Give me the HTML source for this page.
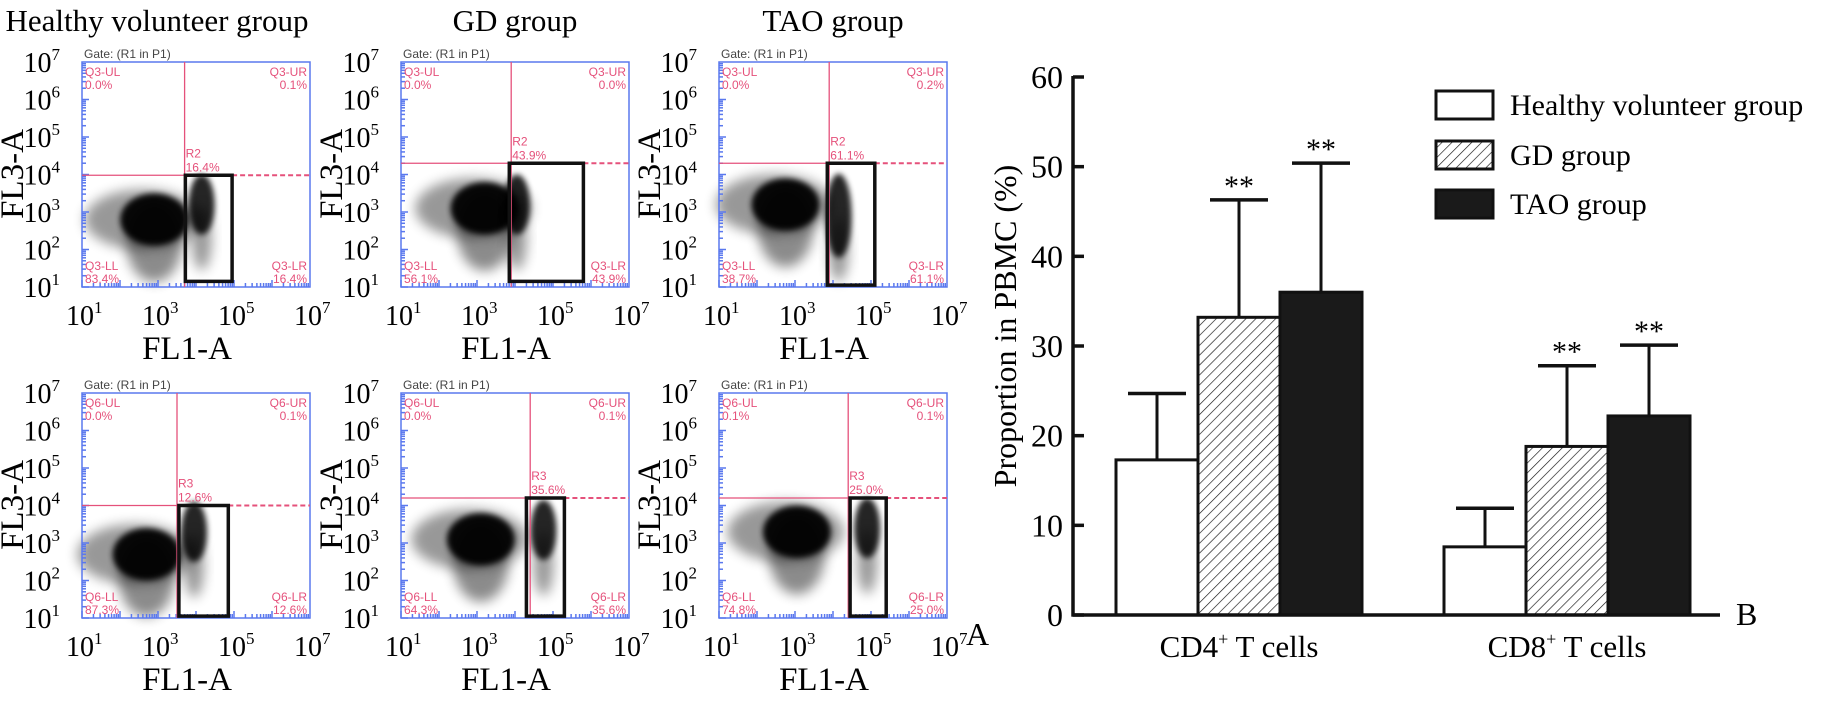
<!DOCTYPE html>
<html><head><meta charset="utf-8">
<style>
html,body{margin:0;padding:0;background:#fff;}
svg{display:block;}
.serif{font-family:"Liberation Serif","Times New Roman",serif;fill:#000;}
.sans{font-family:"Liberation Sans",Arial,sans-serif;}
</style></head>
<body>
<svg id="fig" width="1833" height="724" viewBox="0 0 1833 724" xmlns="http://www.w3.org/2000/svg">
<defs>
  <pattern id="hatch" patternUnits="userSpaceOnUse" width="7" height="7" patternTransform="rotate(45)">
    <rect width="7" height="7" fill="#fff"/>
    <line x1="0" y1="0" x2="0" y2="7" stroke="#111" stroke-width="1.3"/>
  </pattern>
  <filter id="blur6" x="-50%" y="-50%" width="200%" height="200%"><feGaussianBlur stdDeviation="6"/></filter>
  <filter id="blur3" x="-50%" y="-50%" width="200%" height="200%"><feGaussianBlur stdDeviation="3"/></filter>
</defs>
<g id="flow"></g>
<g id="bars"></g>
</svg>
<script>
// ===== Bar chart data =====
const categories = ["CD4", "CD8"];
const groups = ["Healthy volunteer group", "GD group", "TAO group"];
const healthyMeans = [17.3, 7.6];
const healthyErr = [24.7, 11.9];
const gdMeans = [33.2, 18.8];
const gdErr = [46.3, 27.8];
const taoMeans = [36.0, 22.2];
const taoErr = [50.4, 30.1];
const yTicks = [0, 10, 20, 30, 40, 50, 60];
const sigHealthy = ["", ""];
const sigGd = ["**", "**"];
const sigTao = ["**", "**"];

// ===== Flow panel data =====
const panelTitles = ["Healthy volunteer group", "GD group", "TAO group"];
const quadPrefix = ["Q3", "Q6"];
const gateName = ["R2", "R3"];
const pctUL = [[0.0, 0.0, 0.0], [0.0, 0.0, 0.1]];
const pctUR = [[0.1, 0.0, 0.2], [0.1, 0.1, 0.1]];
const pctLL = [[83.4, 56.1, 38.7], [87.3, 64.3, 74.8]];
const pctLR = [[16.4, 43.9, 61.1], [12.6, 35.6, 25.0]];
const pctGate = [[16.4, 43.9, 61.1], [12.6, 35.6, 25.0]];
const cutX = [[3.7, 3.9, 3.9], [3.5, 4.4, 4.4]];
const cutY = [[3.98, 4.3, 4.3], [4.0, 4.2, 4.2]];
const gateXEnd = [[4.95, 5.8, 5.1], [4.85, 5.3, 5.4]];
const gateXStart = [[3.72, 3.85, 3.85], [3.55, 4.3, 4.45]];
const gateYStart = [[1.15, 1.15, 1.05], [1.05, 1.05, 1.05]];
const mainX = [[2.9, 3.2, 2.75], [2.7, 3.1, 3.05]];
const mainY = [[2.8, 3.1, 3.2], [2.7, 3.1, 3.3]];
const gateCX = [[4.15, 4.05, 4.15], [3.95, 4.75, 4.9]];
const gateCY = [[3.2, 3.2, 2.9], [3.3, 3.35, 3.4]];

const NS = "http://www.w3.org/2000/svg";
function mk(tag, attrs, parent) {
  const e = document.createElementNS(NS, tag);
  for (const k in attrs) e.setAttribute(k, attrs[k]);
  if (parent) parent.appendChild(e);
  return e;
}
function txt(parent, x, y, str, cls, size, anchor, extra) {
  const t = mk("text", {x: x, y: y, "font-size": size, "text-anchor": anchor || "start", class: cls}, parent);
  t.textContent = str;
  if (extra) for (const k in extra) t.setAttribute(k, extra[k]);
  return t;
}

const flow = document.getElementById("flow");
const colLeft = [82, 401, 719];
const rowTop = [62, 393];
const PW = 228, PH = 225;
const pink = "#e5517b", blue = "#5a78ee";

for (let c = 0; c < 3; c++) {
  const t = txt(flow, colLeft[c] + (c === 0 ? 75 : 114), 31, panelTitles[c], "serif", 31, "middle");
  
  
}
for (let r = 0; r < 2; r++) {
  for (let c = 0; c < 3; c++) {
    const L = colLeft[c], T = rowTop[r];
    const sx = v => L + (v - 1) / 6 * PW;
    const sy = v => T + PH - (v - 1) / 6 * PH;
    const g = mk("g", {}, flow);
    
    
    const cl = mk("g", {}, g);
    
    
    mk("ellipse", {cx: sx(mainX[r][c]), cy: sy(mainY[r][c] - 0.6), rx: 28, ry: 40, fill: "#000", opacity: 0.45, filter: "url(#blur6)"}, cl);
    mk("ellipse", {cx: sx(mainX[r][c] - 0.3), cy: sy(mainY[r][c]), rx: 58, ry: 30, fill: "#000", opacity: 0.4, filter: "url(#blur6)"}, cl);
    mk("ellipse", {cx: sx(mainX[r][c]), cy: sy(mainY[r][c]), rx: 34, ry: 26, fill: "#000", opacity: 0.95, filter: "url(#blur3)"}, cl);
    mk("ellipse", {cx: sx(gateCX[r][c]), cy: sy(gateCY[r][c]), rx: 13, ry: (r === 0 && c === 2) ? 42 : 30, fill: "#000", opacity: 0.85, filter: "url(#blur3)"}, cl);
    mk("ellipse", {cx: sx(gateCX[r][c]), cy: sy(gateCY[r][c] - 0.9), rx: 10, ry: 32, fill: "#000", opacity: 0.4, filter: "url(#blur6)"}, cl);
    const fr = mk("rect", {x: L, y: T, width: PW, height: PH, fill: "none", stroke: blue, "stroke-width": 1.5}, g);
    
    
    for (let d = 1; d < 7; d++) {
      for (let m = 1; m < 10; m++) {
        const v = d + Math.log10(m);
        const len = m === 1 ? 7 : 4;
        mk("line", {x1: L, x2: L + len, y1: sy(v), y2: sy(v), stroke: blue, "stroke-width": 1.5}, g);
        mk("line", {x1: sx(v), x2: sx(v), y1: T + PH, y2: T + PH - len, stroke: blue, "stroke-width": 1.5}, g);
      }
    }
    const qx = sx(cutX[r][c]), qy = sy(cutY[r][c]);
    mk("line", {x1: qx, x2: qx, y1: T, y2: T + PH, stroke: pink, "stroke-width": 1.3}, g);
    mk("line", {x1: L, x2: sx(gateXEnd[r][c]), y1: qy, y2: qy, stroke: pink, "stroke-width": 1.3}, g);
    mk("line", {x1: sx(gateXEnd[r][c]), x2: L + PW, y1: qy, y2: qy, stroke: pink, "stroke-width": 2, "stroke-dasharray": "5,3"}, g);
    const gr = mk("rect", {x: sx(gateXStart[r][c]), y: qy, width: sx(gateXEnd[r][c]) - sx(gateXStart[r][c]), height: sy(gateYStart[r][c]) - qy, fill: "none", stroke: "#111", "stroke-width": 3.5}, g);
    
    
    const q = quadPrefix[r];
    const f = v => v.toFixed(1) + "%";
    const lab = (x, y, s, a) => txt(g, x, y, s, "sans", 12, a, {fill: pink});
    lab(L + 3, T + 14, q + "-UL", "start"); lab(L + 3, T + 27, f(pctUL[r][c]), "start");
    lab(L + PW - 3, T + 14, q + "-UR", "end"); lab(L + PW - 3, T + 27, f(pctUR[r][c]), "end");
    lab(L + 3, T + PH - 17, q + "-LL", "start"); lab(L + 3, T + PH - 4, f(pctLL[r][c]), "start");
    lab(L + PW - 3, T + PH - 17, q + "-LR", "end"); lab(L + PW - 3, T + PH - 4, f(pctLR[r][c]), "end");
    lab(qx + 1, qy - 18, gateName[r], "start"); lab(qx + 1, qy - 4, f(pctGate[r][c]), "start");
    txt(g, L + 2, T - 4, "Gate: (R1 in P1)", "sans", 12, "start", {fill: "#444"});
    for (let d = 1; d <= 7; d++) {
      const tt = mk("text", {x: L - 22, y: sy(d) + 10, "font-size": 28, "text-anchor": "end", class: "serif"}, g);
      tt.textContent = "10";
      const sp = mk("tspan", {dy: -12, "font-size": 17}, tt);
      sp.textContent = String(d);
      
      
    }
    [1, 3, 5, 7].forEach(d => {
      const tt = mk("text", {x: sx(d) - 16, y: T + PH + 38, "font-size": 28, class: "serif"}, g);
      tt.textContent = "10";
      const sp = mk("tspan", {dy: -12, "font-size": 17}, tt);
      sp.textContent = String(d);
      
      
    });
    const xl = txt(g, L + 105, T + PH + 72, "FL1-A", "serif", 33, "middle");
    
    
    const yl = txt(g, 0, 0, "FL3-A", "serif", 33, "middle", {transform: "translate(" + (L - 59) + "," + (T + 112) + ") rotate(-90)"});
    
    
  }
}
const pa = txt(flow, 966, 645, "A", "serif", 32, "start");



// ===== Bar chart =====
const bars = document.getElementById("bars");
const AX = 1073, Y0 = 615, Y60 = 77, XEND = 1720;
const yScale = v => Y0 - v / 60 * (Y0 - Y60);
const catCenter = i => 1239 + i * 328;
const BW = 82;
const fills = ["#fff", "url(#hatch)", "#1a1a1a"];
const meansAll = [healthyMeans, gdMeans, taoMeans];
const errAll = [healthyErr, gdErr, taoErr];
const sigAll = [sigHealthy, sigGd, sigTao];

for (let i = 0; i < categories.length; i++) {
  for (let s = 0; s < 3; s++) {
    const x0 = catCenter(i) - 1.5 * BW + s * BW;
    const top = yScale(meansAll[s][i]);
    const eTop = yScale(errAll[s][i]);
    const cx = x0 + BW / 2;
    const el = mk("line", {x1: cx, x2: cx, y1: top, y2: eTop, stroke: "#111", "stroke-width": 3}, bars);
    
    
    mk("line", {x1: cx - 29, x2: cx + 29, y1: eTop, y2: eTop, stroke: "#111", "stroke-width": 3.5}, bars);
    const b = mk("rect", {x: x0, y: top, width: BW, height: Y0 - top, fill: fills[s], stroke: "#111", "stroke-width": 3}, bars);
    
    
    if (sigAll[s][i]) {
      const st = txt(bars, cx, eTop - 4, sigAll[s][i], "serif", 30, "middle");
      
      
    }
  }
  const ct = mk("text", {x: catCenter(i), y: 657, "font-size": 31, "text-anchor": "middle", class: "serif"}, bars);
  ct.appendChild(document.createTextNode(categories[i]));
  const sup = mk("tspan", {dy: -12, "font-size": 18}, ct);
  sup.textContent = "+";
  const rest = mk("tspan", {dy: 12}, ct);
  rest.textContent = " T cells";
  
  
}
const ya = mk("line", {x1: AX, x2: AX, y1: Y60 - 1, y2: Y0 + 1.5, stroke: "#111", "stroke-width": 3.5}, bars);


const xa = mk("line", {x1: AX - 1.5, x2: XEND, y1: Y0, y2: Y0, stroke: "#111", "stroke-width": 3.5}, bars);


yTicks.forEach(v => {
  mk("line", {x1: AX, x2: AX + 11, y1: yScale(v), y2: yScale(v), stroke: "#111", "stroke-width": 3.5}, bars);
  const tl = txt(bars, AX - 10, yScale(v) + 11, String(v), "serif", 32, "end");
  
  
});
const yt = txt(bars, 0, 0, "Proportion  in PBMC (%)", "serif", 32, "middle", {transform: "translate(1016,326) rotate(-90)", "xml:space": "preserve"});


const pb = txt(bars, 1736, 625, "B", "serif", 32, "start");


const legY = [91, 141, 190];
for (let s = 0; s < 3; s++) {
  const lg = mk("g", {}, bars);
  
  
  mk("rect", {x: 1436, y: legY[s], width: 57, height: 28, fill: fills[s], stroke: "#111", "stroke-width": 3}, lg);
  txt(lg, 1510, legY[s] + 24, groups[s], "serif", 30, "start");
}
</script>
</body></html>
